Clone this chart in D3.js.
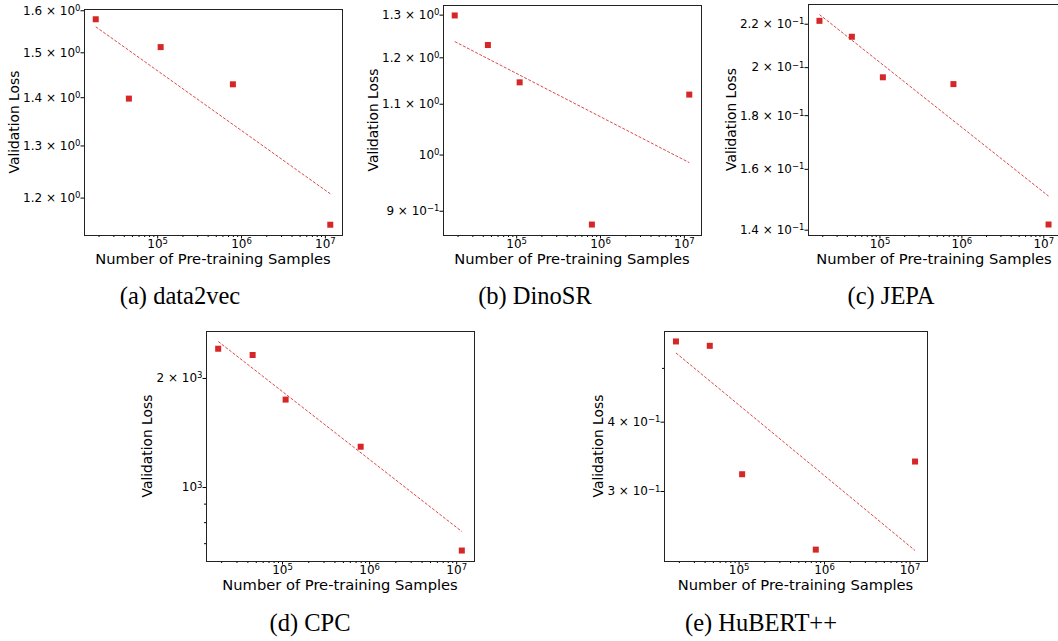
<!DOCTYPE html>
<html>
<head>
<meta charset="utf-8">
<script src="https://cdn.jsdelivr.net/npm/d3@7"></script>
<style>
  body { margin: 0; background: #fff; }
  svg { display: block; }
  .tick line { stroke: #000; }
  .axis-label { font-family: "DejaVu Sans", sans-serif; fill: #000; }
  .caption { font-family: "Liberation Serif", "Times New Roman", serif; font-size: 24.5px; fill: #000; }
</style>
</head>
<body>
<svg id="fig" width="1058" height="641"></svg>
<script>
// shared x values (pre-training samples)
var samples = [18500, 46000, 110000, 800000, 11600000];
var xMajorTicks = [1e5, 1e6, 1e7];

// validation loss per model
var data2vecLoss = [1.578, 1.397, 1.512, 1.428, 1.151];
var dinosrLoss   = [1.298, 1.228, 1.145, 0.877, 1.119];
var jepaLoss     = [0.2214, 0.2138, 0.1956, 0.1927, 0.1416];
var cpcLoss      = [2408, 2314, 1743, 1292, 668];
var hubertLoss   = [0.558, 0.548, 0.3216, 0.2352, 0.339];

// dashed trend line, value at first and last sample
var data2vecTrend = [1.560, 1.207];
var dinosrTrend   = [1.236, 0.985];
var jepaTrend     = [0.2245, 0.1507];
var cpcTrend      = [2522, 754];
var hubertTrend   = [0.532, 0.2343];

// y tick values (labelled / unlabelled)
var data2vecTicks = [1.2, 1.3, 1.4, 1.5, 1.6];
var dinosrTicks   = [0.9, 1.0, 1.1, 1.2, 1.3];
var jepaTicks     = [0.14, 0.16, 0.18, 0.20, 0.22];
var cpcTicks      = [1000, 2000];
var cpcMinor      = [700, 800, 900];
var hubertTicks   = [0.3, 0.4];
var hubertMinor   = [0.5];

var captions = ["(a) data2vec", "(b) DinoSR", "(c) JEPA", "(d) CPC", "(e) HuBERT++"];

var panels = [
    { loss: data2vecLoss, trend: data2vecTrend, ticks: data2vecTicks, minor: [] },
    { loss: dinosrLoss,   trend: dinosrTrend,   ticks: dinosrTicks,   minor: [] },
    { loss: jepaLoss,     trend: jepaTrend,     ticks: jepaTicks,     minor: [] },
    { loss: cpcLoss,      trend: cpcTrend,      ticks: cpcTicks,      minor: cpcMinor },
    { loss: hubertLoss,   trend: hubertTrend,   ticks: hubertTicks,   minor: hubertMinor }
];

// layout: axes frame and caption position for each panel
var frames = [
    { x: 84,  y: 9,   w: 258, h: 226, cx: 180, cy: 304 },
    { x: 443, y: 5,   w: 258, h: 230, cx: 535, cy: 304 },
    { x: 808, y: 4,   w: 252, h: 231, cx: 891, cy: 304 },
    { x: 206, y: 331, w: 268, h: 230, cx: 310, cy: 631 },
    { x: 664, y: 331, w: 263, h: 230, cx: 761, cy: 631 }
];

var red = "#d62728";
var tickFont = "DejaVu Sans, sans-serif";
var svg = d3.select("#fig");
svg.append("rect").attr("width", 1058).attr("height", 641).attr("fill", "#fff");

// matplotlib style 5% margin in log space
function padLog(vals) {
    var lo = Math.log10(d3.min(vals)), hi = Math.log10(d3.max(vals));
    var m = (hi - lo) * 0.05;
    return [Math.pow(10, lo - m), Math.pow(10, hi + m)];
}

// "2.2 × 10^-1" style label written into an axis text node
function sciLabel(sel, v) {
    var e = Math.floor(Math.log10(v) + 1e-9);
    var m = Math.round(v / Math.pow(10, e) * 10) / 10;
    sel.text(null)
        .attr("font-size", 12)
        .attr("font-family", tickFont)
        .attr("fill", "#000");
    var head = (m === 1 ? "" : (String(m) + " \u00d7 ")) + "10";
    sel.append("tspan").text(head);
    sel.append("tspan")
        .attr("dy", "-0.45em")
        .attr("font-size", 8.5)
        .text(String(e).replace("-", "\u2212"));
}

var xMinorTicks = [];
[4, 5, 6].forEach(function(k) {
    for (var s = 2; s <= 9; s++) xMinorTicks.push(s * Math.pow(10, k));
});

panels.forEach(function(p, i) {
    var f = frames[i];
    var g = svg.append("g").attr("transform", "translate(" + f.x + "," + f.y + ")");

    var xDom = padLog(samples);
    var yDom = padLog(p.loss.concat(p.trend));
    var x = d3.scaleLog().domain(xDom).range([0, f.w]);
    var y = d3.scaleLog().domain(yDom).range([f.h, 0]);

    // x axis
    var xm = xMinorTicks.filter(function(v) { return v >= xDom[0] && v <= xDom[1]; });
    g.append("g")
        .attr("transform", "translate(0," + f.h + ")")
        .call(d3.axisBottom(x).tickValues(xm).tickSize(2).tickSizeOuter(0).tickFormat(""))
        .call(function(a) { a.select(".domain").remove(); });
    var xa = g.append("g")
        .attr("transform", "translate(0," + f.h + ")")
        .call(d3.axisBottom(x).tickValues(xMajorTicks).tickSize(3.5).tickSizeOuter(0).tickPadding(1));
    xa.select(".domain").remove();
    xa.selectAll(".tick text").each(function(d) { sciLabel(d3.select(this), d); });

    // y axis
    if (p.minor.length) {
        g.append("g")
            .call(d3.axisLeft(y).tickValues(p.minor).tickSize(2).tickSizeOuter(0).tickFormat(""))
            .call(function(a) { a.select(".domain").remove(); });
    }
    var ya = g.append("g")
        .call(d3.axisLeft(y).tickValues(p.ticks).tickSize(3.5).tickSizeOuter(0).tickPadding(0));
    ya.select(".domain").remove();
    ya.selectAll(".tick text").each(function(d) { sciLabel(d3.select(this), d); });

    // frame
    g.append("rect")
        .attr("x", 0.5).attr("y", 0.5)
        .attr("width", f.w).attr("height", f.h)
        .attr("fill", "none")
        .attr("stroke", "#222")
        .attr("stroke-width", 1);

    // trend line
    var ends = [
        { s: samples[0], v: p.trend[0] },
        { s: samples[samples.length - 1], v: p.trend[1] }
    ];
    g.append("path")
        .datum(ends)
        .attr("fill", "none")
        .attr("stroke", red)
        .attr("stroke-opacity", 0.85)
        .attr("stroke-width", 1)
        .attr("stroke-dasharray", "3,1.6")
        .attr("d", d3.line()
            .x(function(d) { return x(d.s); })
            .y(function(d) { return y(d.v); }));

    // points
    var sz = 6;
    g.selectAll("rect.pt")
        .data(p.loss)
        .enter()
        .append("rect")
            .attr("class", "pt")
            .attr("x", function(d, j) { return x(samples[j]) - sz / 2; })
            .attr("y", function(d) { return y(d) - sz / 2; })
            .attr("width", sz)
            .attr("height", sz)
            .attr("fill", red);

    // axis labels
    g.append("text")
        .attr("class", "axis-label")
        .attr("font-size", "14.7px")
        .attr("x", f.w / 2)
        .attr("y", f.h + 29)
        .attr("text-anchor", "middle")
        .text("Number of Pre-training Samples");
    var left = ya.node().getBBox().x;
    g.append("text")
        .attr("class", "axis-label")
        .attr("font-size", "13.8px")
        .attr("transform", "translate(" + (left - 4) + "," + (f.h / 2) + ") rotate(-90)")
        .attr("text-anchor", "middle")
        .text("Validation Loss");

    // caption
    svg.append("text")
        .attr("class", "caption")
        .attr("x", f.cx)
        .attr("y", f.cy)
        .attr("text-anchor", "middle")
        .text(captions[i]);
});
</script>
</body>
</html>
